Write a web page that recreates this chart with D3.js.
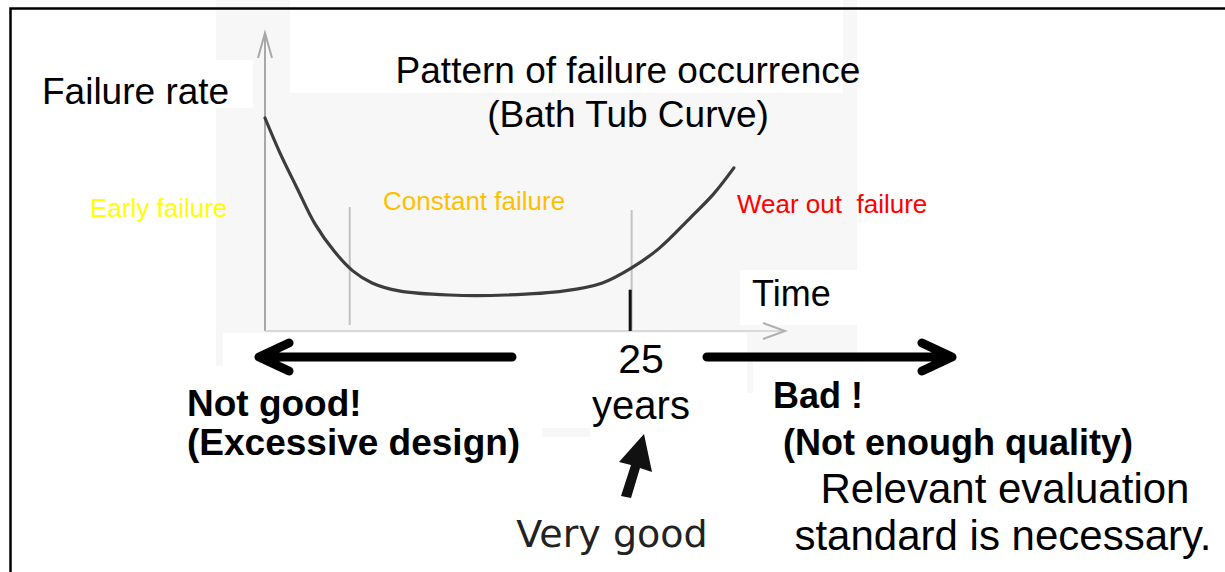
<!DOCTYPE html>
<html>
<head>
<meta charset="utf-8">
<script src="https://cdn.jsdelivr.net/npm/d3@7"></script>
<style>
  body { margin: 0; background: #fff; }
  svg { display: block; font-family: "Liberation Sans", Arial, sans-serif; }
  text { white-space: pre; }
</style>
</head>
<body>
<svg id="chart" width="1225" height="572"></svg>
<script>
// bath tub curve (time in years, rate in arbitrary units)
const curveTime = [0, 1.03, 2.19, 3.42, 4.73, 6.03, 7.33, 9.18, 12.6, 16.5, 20.5, 23.1, 25.1, 27.0, 29.1, 30.7, 32.1];
const curveRate = [72.2, 60.3, 48.5, 36.3, 27.1, 20.3, 16.3, 13.6, 12.2, 12.2, 13.6, 16.3, 21.4, 28.1, 38.3, 46.4, 55.3];

// phase boundaries: [time, top rate, bottom rate]
const boundaryTime = [5.8, 25.1];
const boundaryTop = [42, 41];
const boundaryBottom = [2, 0];

const designLife = 25;
const phaseLabels = ["Early failure", "Constant failure", "Wear out  failure"];
const phaseColors = ["#ffff00", "#ffc000", "#ff0000"];

const svg = d3.select("#chart");

const x = d3.scaleLinear().domain([0, 35.6]).range([265, 785]);
const y = d3.scaleLinear().domain([0, 100]).range([331, 36]);

// pasted-picture backgrounds
const bg = "#f7f7f7";
svg.append("rect").attr("x", 216).attr("y", 0).attr("width", 641).attr("height", 333).attr("fill", bg);
svg.append("rect").attr("x", 290).attr("y", 0).attr("width", 553).attr("height", 93).attr("fill", "#fff");
svg.append("rect").attr("x", 216).attr("y", 60).attr("width", 37).attr("height", 48).attr("fill", "#fff");
svg.append("rect").attr("x", 740).attr("y", 270).attr("width", 117).attr("height", 55).attr("fill", "#fff");
svg.append("rect").attr("x", 216).attr("y", 333).attr("width", 7).attr("height", 33).attr("fill", bg);
svg.append("rect").attr("x", 747).attr("y", 325).attr("width", 110).attr("height", 68).attr("fill", bg);
svg.append("rect").attr("x", 753).attr("y", 362).attr("width", 110).attr("height", 40).attr("fill", "#fff");
svg.append("rect").attr("x", 542).attr("y", 428).attr("width", 48).attr("height", 9).attr("fill", bg);

// frame
svg.append("path")
    .attr("d", "M10.5,572 L10.5,8.5 L1225,8.5")
    .attr("fill", "none")
    .attr("stroke", "#000")
    .attr("stroke-width", 2.5);

// axes
const axisColor = "#a8a8a8";
svg.append("line")
    .attr("x1", x(0)).attr("x2", x(0))
    .attr("y1", y(0)).attr("y2", 33)
    .attr("stroke", axisColor).attr("stroke-width", 2);
svg.append("path")
    .attr("d", `M${x(0) - 7},58 L${x(0)},33 L${x(0) + 7},58`)
    .attr("fill", "none").attr("stroke", axisColor).attr("stroke-width", 2);
svg.append("line")
    .attr("x1", x(0)).attr("x2", x(35.6))
    .attr("y1", y(0)).attr("y2", y(0))
    .attr("stroke", "#cfcfcf").attr("stroke-width", 1.5);
svg.append("path")
    .attr("d", `M${x(35.6) - 22},${y(0) - 8} L${x(35.6)},${y(0)} L${x(35.6) - 22},${y(0) + 8}`)
    .attr("fill", "none").attr("stroke", "#b0b0b0").attr("stroke-width", 2);

// phase boundaries
boundaryTime.forEach((t, i) => {
    svg.append("line")
        .attr("x1", x(t)).attr("x2", x(t))
        .attr("y1", y(boundaryTop[i])).attr("y2", y(boundaryBottom[i]))
        .attr("stroke", "#c2c2c2").attr("stroke-width", 2);
});

// design life tick
svg.append("line")
    .attr("x1", x(designLife)).attr("x2", x(designLife))
    .attr("y1", y(14)).attr("y2", y(0))
    .attr("stroke", "#111").attr("stroke-width", 3);

// the curve
const points = curveTime.map((t, i) => [t, curveRate[i]]);
svg.append("path")
    .datum(points)
    .attr("fill", "none")
    .attr("stroke", "#3c3c3c")
    .attr("stroke-width", 3.2)
    .attr("stroke-linecap", "round")
    .attr("d", d3.line().x(d => x(d[0])).y(d => y(d[1])).curve(d3.curveCatmullRom.alpha(0.5)));

// texts
function txt(s, tx, ty, size, opts = {}) {
    return svg.append("text")
        .attr("x", tx).attr("y", ty)
        .attr("font-size", size)
        .attr("font-weight", opts.bold ? "bold" : "normal")
        .attr("text-anchor", opts.anchor || "start")
        .attr("fill", opts.color || "#000")
        .style("font-family", opts.family || null)
        .text(s);
}

txt("Failure rate", 42, 104, 37);
txt("Pattern of failure occurrence", 628, 83, 37, { anchor: "middle" });
txt("(Bath Tub Curve)", 628, 127, 37, { anchor: "middle" });
txt(phaseLabels[0], 90, 217, 26, { color: phaseColors[0] });
txt(phaseLabels[1], 383, 210, 26, { color: phaseColors[1] });
txt(phaseLabels[2], 737, 213, 26, { color: phaseColors[2] });
txt("Time", 752, 306, 36);
txt(String(designLife), 641, 373, 41, { anchor: "middle" });
txt("years", 641, 419, 40, { anchor: "middle" });

txt("Not good!", 187, 416, 37, { bold: true });
txt("(Excessive design)", 187, 455, 37, { bold: true });
txt("Bad !", 773, 408, 36, { bold: true });
txt("(Not enough quality)", 783, 455, 36, { bold: true });
txt("Relevant evaluation", 1005, 503, 42, { anchor: "middle" });
txt("standard is necessary.", 1003, 550, 42, { anchor: "middle" });
txt("Very good", 612, 547, 38, { anchor: "middle", color: "#222", family: "'DejaVu Sans', sans-serif" });

// left / right arrows
const arrowY = 357;
svg.append("path")
    .attr("d", `M512,${arrowY} L261,${arrowY} M289,${arrowY - 14} L259,${arrowY} L289,${arrowY + 14}`)
    .attr("fill", "none").attr("stroke", "#000").attr("stroke-width", 9)
    .attr("stroke-linecap", "round").attr("stroke-linejoin", "round");
svg.append("path")
    .attr("d", `M707,${arrowY} L950,${arrowY} M922,${arrowY - 14} L952,${arrowY} L922,${arrowY + 14}`)
    .attr("fill", "none").attr("stroke", "#000").attr("stroke-width", 9)
    .attr("stroke-linecap", "round").attr("stroke-linejoin", "round");

// "very good" arrow pointing at 25 years
svg.append("path")
    .attr("d", "M621,496 L631,498 L640,468 L652,472 L644,434 L619,462 L631,465 Z")
    .attr("fill", "#111");
</script>
</body>
</html>
